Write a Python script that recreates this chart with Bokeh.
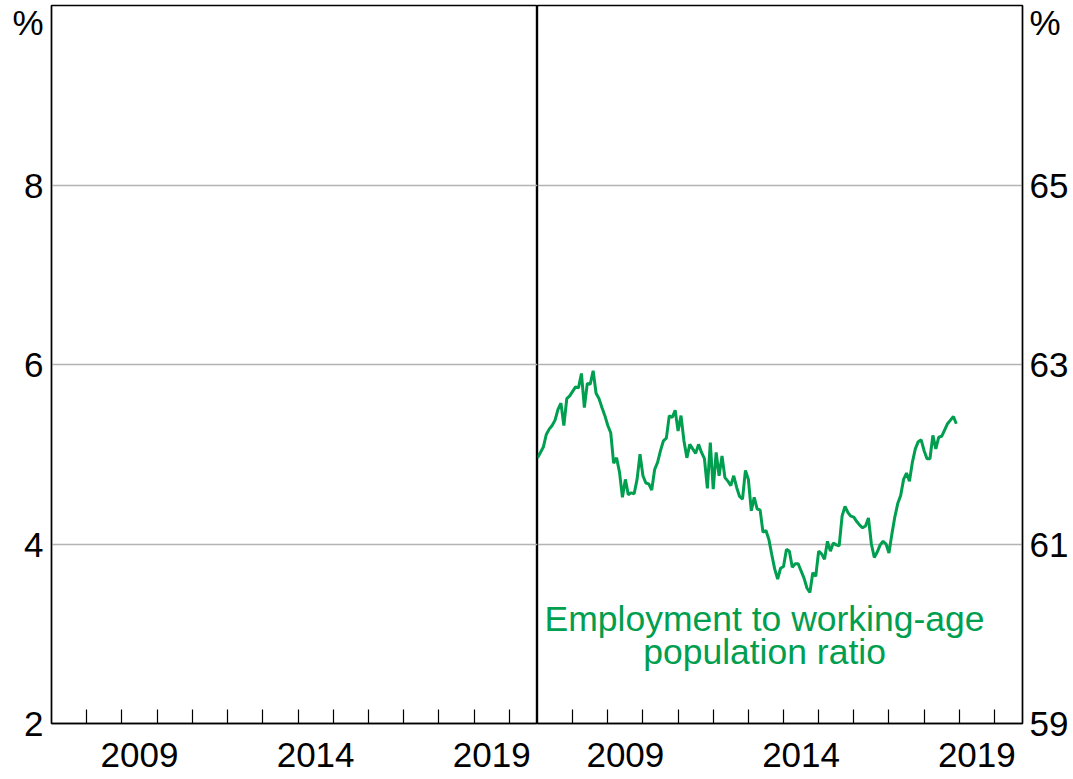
import pandas as pd
from bokeh.plotting import figure
from bokeh.layouts import row
from bokeh.models import Range1d, FixedTicker, Label, ColumnDataSource
from bokeh.embed import file_html
from bokeh.resources import INLINE

# ---------------- data ----------------
# Employment to working-age population ratio, %, monthly from Jan 2007
emp_ratio = [
    61.96, 62.02, 62.08, 62.22, 62.28, 62.32, 62.38, 62.50, 62.57, 62.32, 62.62, 62.65,
    62.70, 62.75, 62.74, 62.90, 62.52, 62.79, 62.78, 62.93, 62.68, 62.62, 62.52, 62.43,
    62.32, 62.24, 61.90, 61.96, 61.80, 61.52, 61.72, 61.55, 61.57, 61.56, 61.72, 62.00,
    61.76, 61.68, 61.67, 61.60, 61.83, 61.91, 62.04, 62.15, 62.18, 62.43, 62.41, 62.49,
    62.26, 62.43, 62.15, 61.96, 62.11, 62.06, 62.01, 62.11, 62.02, 61.95, 61.62, 62.13,
    61.61, 62.02, 61.76, 61.98, 61.74, 61.70, 61.65, 61.76, 61.63, 61.53, 61.50, 61.82,
    61.72, 61.37, 61.52, 61.39, 61.38, 61.13, 61.15, 61.05, 60.88, 60.72, 60.61, 60.73,
    60.75, 60.94, 60.92, 60.74, 60.78, 60.78, 60.70, 60.62, 60.51, 60.46, 60.68, 60.64,
    60.92, 60.89, 60.83, 61.03, 60.92, 61.01, 60.99, 60.98, 61.31, 61.42, 61.35, 61.31,
    61.30, 61.25, 61.21, 61.18, 61.20, 61.29, 61.00, 60.85, 60.91, 60.99, 61.03, 61.00,
    60.90, 61.11, 61.30, 61.45, 61.54, 61.72, 61.79, 61.70, 61.91, 62.06, 62.14, 62.16,
    62.04, 61.95, 61.95, 62.21, 62.06, 62.19, 62.20, 62.27, 62.34, 62.38, 62.42, 62.34,
]
start_month = "2007-01"

x_label_years = [2009, 2014, 2019]
x_tick_labels = ["2009", "2014", "2019"]
minor_tick_years = list(range(2008, 2021))
x_start, x_end = 2007, 2020.8

left_ticks = [2, 4, 6, 8]
left_grid = [4, 6, 8]
left_range = (2, 10)
right_ticks = [59, 61, 63, 65]
right_grid = [61, 63, 65]
right_range = (59, 67)
unit_label = "%"
unit_drop = 0.19  # unit label sits just below the top of each axis
annotation_lines = ["Employment to working-age", "population ratio"]

# ---------------- styles ----------------
FONT = "Liberation Sans"
FS = "35px"
FS_NOTE = "35.5px"
GREEN = "#009E4F"
GRID = "#b3b3b3"

dates = pd.date_range(start_month, periods=len(emp_ratio), freq="MS")
xdec = list(dates.year + (dates.month - 1) / 12.0)
src = ColumnDataSource(dict(x=xdec, y=emp_ratio))

major_x = [y + 0.5 for y in x_label_years]
x_overrides = {m: t for m, t in zip(major_x, x_tick_labels)}


def style_common(p, grid_vals, yticks, yrange):
    p.outline_line_color = "black"
    p.outline_line_width = 1.4
    p.xgrid.visible = False
    p.ygrid.ticker = FixedTicker(ticks=grid_vals)
    p.ygrid.grid_line_color = GRID
    p.ygrid.grid_line_width = 1.3
    xa = p.xaxis[0]
    xa.ticker = FixedTicker(ticks=major_x, minor_ticks=minor_tick_years)
    xa.major_label_overrides = x_overrides
    xa.major_tick_in = 0
    xa.major_tick_out = 0
    xa.minor_tick_in = 14
    xa.minor_tick_out = 0
    xa.minor_tick_line_color = "black"
    xa.minor_tick_line_width = 1.2
    xa.axis_line_color = "black"
    xa.axis_line_width = 1.4
    xa.major_label_text_font = FONT
    xa.major_label_text_font_size = FS
    xa.major_label_text_color = "black"
    xa.major_label_standoff = 19
    ya = p.yaxis[0]
    unit_pos = yrange[1] - unit_drop
    ya.ticker = FixedTicker(ticks=yticks + [unit_pos])
    ya.major_label_overrides = {unit_pos: unit_label}
    ya.major_tick_in = 0
    ya.major_tick_out = 0
    ya.minor_tick_line_color = None
    ya.axis_line_color = "black"
    ya.axis_line_width = 1.4
    ya.major_label_text_font = FONT
    ya.major_label_text_font_size = FS
    ya.major_label_text_color = "black"
    p.background_fill_color = "white"
    p.border_fill_color = "white"


p1 = figure(width=537, height=779, x_range=Range1d(x_start, x_end),
            y_range=Range1d(*left_range), output_backend="svg",
            toolbar_location=None, min_border_left=51, min_border_right=0,
            min_border_top=5, min_border_bottom=56)
style_common(p1, left_grid, left_ticks, left_range)
p1.yaxis[0].major_label_standoff = 8

p2 = figure(width=534, height=779, x_range=Range1d(x_start, x_end),
            y_range=Range1d(*right_range), output_backend="svg",
            toolbar_location=None, y_axis_location="right",
            min_border_left=0, min_border_right=47,
            min_border_top=5, min_border_bottom=56)
style_common(p2, right_grid, right_ticks, right_range)
p2.yaxis[0].major_label_standoff = 7

p2.line(x="x", y="y", source=src, line_color=GREEN, line_width=3)

p2.add_layout(Label(x=2013.46, y=60.16, text=annotation_lines[0], text_align="center",
                    text_baseline="alphabetic", text_font=FONT, text_font_size=FS_NOTE,
                    text_color=GREEN))
p2.add_layout(Label(x=2013.46, y=59.80, text=annotation_lines[1], text_align="center",
                    text_baseline="alphabetic", text_font=FONT, text_font_size=FS_NOTE,
                    text_color=GREEN))

layout = row(p1, p2)
open("out.html", "w").write(file_html(layout, INLINE))
